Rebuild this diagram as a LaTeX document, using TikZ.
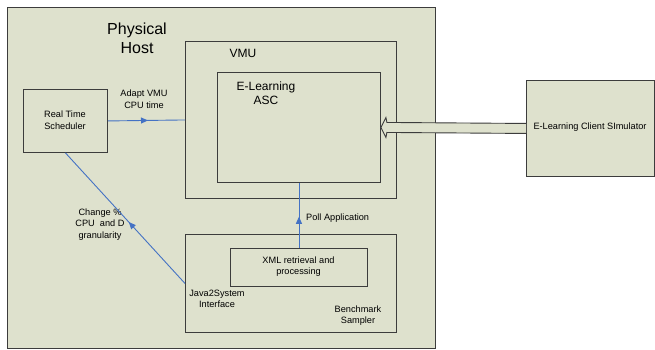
\documentclass[tikz,border=0pt]{standalone}
\usepackage{fontspec}
\setmainfont{Liberation Sans}
\usetikzlibrary{calc,arrows.meta,decorations.markings}
\definecolor{panel}{RGB}{222,225,205}
\definecolor{flow}{RGB}{68,114,196}
\definecolor{edge}{RGB}{60,60,60}
\tikzset{
  box/.style={draw=edge, line width=0.9pt, fill=panel, anchor=north west, inner sep=0pt},
  plain/.style={draw=edge, line width=0.9pt, anchor=north west, inner sep=0pt},
  lbl/.style={font=\fontsize{9.2}{11.5}\selectfont, align=center, inner sep=0pt},
  biglbl/.style={font=\fontsize{12}{13.5}\selectfont, align=center, inner sep=0pt},
  flowline/.style={draw=flow, line width=0.9pt,
    postaction={decorate, decoration={markings,
      mark=at position #1 with {\arrow{Triangle[length=7pt,width=6pt]}}}}},
  flowline/.default=0.5
}
\begin{document}
\begin{tikzpicture}[x=1pt,y=-1pt]
\useasboundingbox (0,0) rectangle (655,350);
\fill[white] (0,0) rectangle (655,350);

% containers
\node[box, minimum width=428pt, minimum height=341pt] (host) at (7,7) {};
\node[plain, minimum width=211pt, minimum height=157pt] (vmu) at (185,41) {};
\node[plain, minimum width=163pt, minimum height=110pt] (asc) at (217,72) {};
\node[plain, minimum width=84pt, minimum height=63pt] (sched) at (23,89) {};
\node[plain, minimum width=211pt, minimum height=98pt] (bench) at (185,234) {};
\node[plain, minimum width=137pt, minimum height=38pt] (xml) at (230,248) {};
\node[box, minimum width=128pt, minimum height=96pt] (client) at (526,80) {};

% labels
\node[font=\fontsize{16}{19}\selectfont, align=center, inner sep=0pt] (hostlbl) at (137,38.5) {Physical\\Host};
\node[biglbl] (vmulbl) at (243,53) {VMU};
\node[biglbl] (asclbl) at (266,93) {E-Learning\\\hspace*{0pt}ASC};
\node[lbl] (schedlbl) at (65,120) {Real Time\\Scheduler};
\node[lbl] (adaptlbl) at (144,99) {Adapt VMU\\CPU time};
\node[lbl] (changelbl) at (100,224.5) {Change \%\\CPU\ \ and D\\granularity};
\node[lbl, anchor=west] (polllbl) at (306,218) {Poll Application};
\node[lbl] (xmllbl) at (298.5,266.5) {XML retrieval and\\processing};
\node[lbl] (javalbl) at (217,299) {Java2System\\Interface};
\node[lbl] (benchlbl) at (358,315.5) {Benchmark\\Sampler};
\node[lbl] (clientlbl) at (590,127) {E-Learning Client SImulator};

% control flows
\draw[flowline=0.52] (sched.east) -- (vmu.west);
\draw[flowline=0.47] (bench.west) -- (sched.south);
\draw[flowline=0.48] (xml.north) -- (asc.south);

% request stream from the client simulator
\draw[draw=edge, line width=0.9pt, fill=panel]
  ($(client.west)+(0,-5)$) -- ($(asc.east)+(6,-5)$) -- ($(asc.east)+(5,-10)$)
  -- (asc.east) -- ($(asc.east)+(5,10)$) -- ($(asc.east)+(6,5)$)
  -- ($(client.west)+(0,5)$);
\end{tikzpicture}
\end{document}
